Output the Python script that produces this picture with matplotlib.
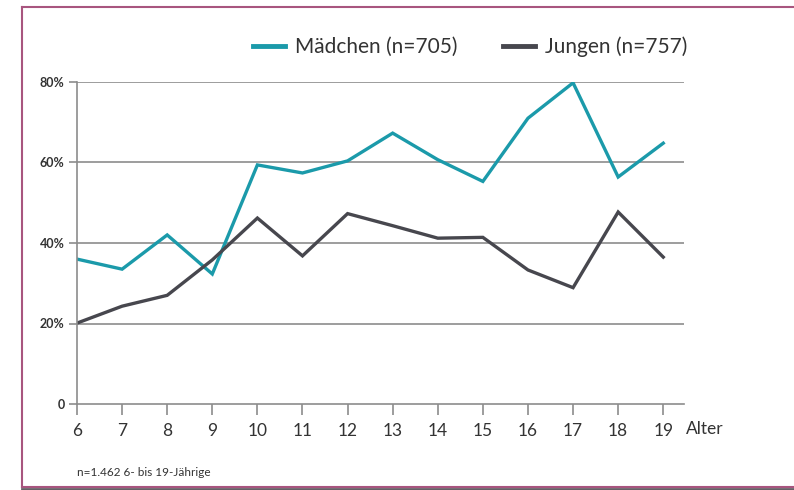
import matplotlib.pyplot as plt
from matplotlib.lines import Line2D

# Data
alter = [6, 7, 8, 9, 10, 11, 12, 13, 14, 15, 16, 17, 18, 19]
maedchen = [36.0, 33.5, 42.0, 32.3, 59.4, 57.4, 60.4, 67.3, 60.7, 55.3, 71.0, 79.8, 56.4, 64.8]
jungen = [20.1, 24.3, 27.0, 35.8, 46.2, 36.8, 47.3, 44.3, 41.2, 41.4, 33.3, 28.9, 47.7, 36.5]

yticks = [0, 20, 40, 60, 80]
ytick_labels = ['0', '20%', '40%', '60%', '80%']

tealColor = '#1b9aaa'
grayColor = '#47474e'
gridColor = '#8c8c8c'
textColor = '#333333'
frameColor = '#a8557f'

plt.rcParams['font.family'] = ['Lato', 'DejaVu Sans']

fig = plt.figure(figsize=(7.94, 4.90), dpi=100)
ax = fig.add_axes([77 / 794, 1 - 404 / 490, (684 - 77) / 794, (404 - 82) / 490])

ax.plot(alter, maedchen, color=tealColor, lw=2.4, label='Mädchen (n=705)', solid_joinstyle='miter')
ax.plot(alter, jungen, color=grayColor, lw=2.4, label='Jungen (n=757)', solid_joinstyle='miter')

ax.set_xlim(6, 19.46)
ax.set_ylim(0, 80)
ax.set_xticks(alter)
ax.set_xticklabels([str(a) for a in alter], fontsize=12.5, color=textColor)
ax.set_yticks(yticks)
ax.set_yticklabels(ytick_labels, fontsize=9, color=textColor, fontweight='bold')

for y in yticks[1:]:
    ax.axhline(y, color=gridColor, lw=1.2, zorder=0)

for side in ['top', 'right']:
    ax.spines[side].set_visible(False)
for side in ['left', 'bottom']:
    ax.spines[side].set_color(gridColor)
    ax.spines[side].set_linewidth(1.2)
ax.tick_params(axis='x', direction='out', length=8, width=1.2, color=gridColor, pad=6)
ax.tick_params(axis='y', direction='out', length=6, width=1.2, color=gridColor, pad=3)

fig.text(686 / 794, 1 - 429 / 490, 'Alter', fontsize=12.5, color=textColor, ha='left', va='center')

leg = fig.legend(loc='center', bbox_to_anchor=((258 + 683) / 2 / 794, 1 - 47 / 490), ncol=2,
                 frameon=False, fontsize=15, handlelength=1.5, handletextpad=0.5,
                 columnspacing=2.2, borderpad=0)
for line in leg.get_lines():
    line.set_linewidth(3.5)
for t in leg.get_texts():
    t.set_color(textColor)

fig.text(77 / 794, 1 - 472 / 490, 'n=1.462 6- bis 19-Jährige', fontsize=8.5, color=textColor,
         ha='left', va='center')

# Frame around the chart, with a faint shadow at the bottom
fig.add_artist(Line2D([22 / 794, 22 / 794], [1 - 487 / 490, 1 - 7 / 490], color=frameColor, lw=1.5))
fig.add_artist(Line2D([22 / 794, 1.0], [1 - 7 / 490, 1 - 7 / 490], color=frameColor, lw=1.5))
fig.add_artist(Line2D([22 / 794, 1.0], [1 - 489 / 490, 1 - 489 / 490], color='#666066', lw=2.0))
fig.add_artist(Line2D([22 / 794, 1.0], [1 - 487 / 490, 1 - 487 / 490], color=frameColor, lw=1.5))

fig.savefig('out.png', dpi=100)
